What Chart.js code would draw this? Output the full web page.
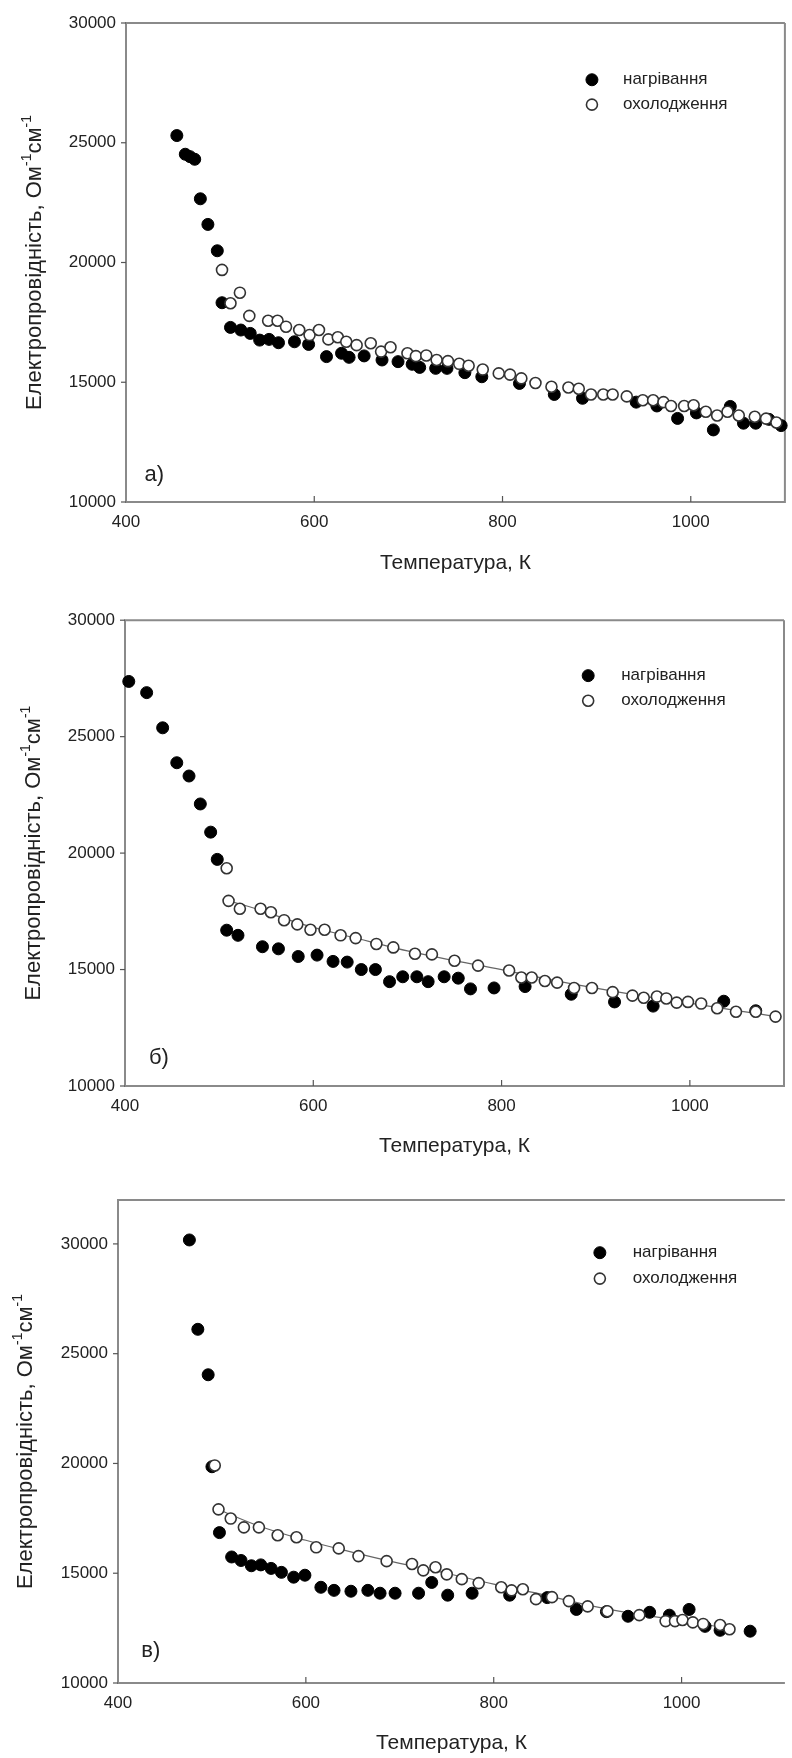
<!DOCTYPE html>
<html><head><meta charset="utf-8">
<script src="https://cdn.jsdelivr.net/npm/chart.js@4.4.0/dist/chart.umd.min.js"></script>
<style>
html,body{margin:0;padding:0;background:#fff;}
body{width:792px;height:1758px;position:relative;overflow:hidden;}
canvas{position:absolute;left:0;}
</style></head><body>
<canvas id="ca"></canvas>
<canvas id="cb"></canvas>
<canvas id="cc"></canvas>
<script>
// ---- tick labels and texts ----
const xTicks = [400, 600, 800, 1000];
const yTicks = [10000, 15000, 20000, 25000, 30000];
const legendLabels = ['нагрівання', 'охолодження'];
const xTitle = 'Температура, К';
const yTitleParts = [['Електропровідність, Ом', false], ['-1', true], ['см', false], ['-1', true]];
const panelLabels = ['а)', 'б)', 'в)'];

// ---- panel а ----
const heatTempA = [454,463,468,473,479,487,497,502,511,522,532,542,552,562,579,594,613,629,637,653,672,689,704,712,729,741,760,778,818,855,885,942,964,986,1006,1024,1042,1056,1069,1083,1096];
const heatCondA = [25300,24520,24420,24310,22660,21590,20490,18320,17290,17180,17040,16760,16790,16650,16690,16580,16070,16210,16040,16100,15930,15860,15750,15620,15580,15580,15400,15230,14950,14490,14330,14170,14010,13490,13720,13010,13990,13290,13290,13450,13190];
const coolTempA = [502,511,521,531,551,561,570,584,595,605,615,625,634,645,660,671,681,699,708,719,730,742,754,764,779,796,808,820,835,852,870,881,894,907,917,932,949,960,971,979,993,1003,1016,1028,1039,1051,1068,1080,1091];
const coolCondA = [19690,18300,18740,17770,17570,17570,17320,17180,16970,17180,16790,16880,16690,16550,16630,16280,16460,16210,16090,16120,15930,15880,15770,15690,15530,15370,15320,15160,14970,14810,14780,14730,14490,14490,14490,14410,14250,14250,14170,14010,14010,14040,13770,13610,13770,13610,13560,13480,13320];

// ---- panel б ----
const heatTempB = [404,423,440,455,468,480,491,498,508,520,546,563,584,604,621,636,651,666,681,695,710,722,739,754,767,792,825,874,920,961,1036,1070];
const heatCondB = [27370,26890,25380,23880,23310,22110,20900,19730,16690,16470,15980,15890,15560,15620,15350,15320,15000,15000,14480,14690,14690,14480,14690,14630,14170,14210,14270,13940,13610,13430,13640,13230];
const coolTempB = [508,510,522,544,555,569,583,597,612,629,645,667,685,708,726,750,775,808,821,832,846,859,877,896,918,939,951,965,975,986,998,1012,1029,1049,1070,1091];
const coolCondB = [19350,17950,17610,17610,17460,17120,16940,16710,16710,16470,16350,16100,15950,15680,15650,15380,15170,14960,14660,14660,14510,14440,14210,14210,14030,13880,13790,13840,13760,13580,13610,13540,13340,13190,13190,12980];
const fitTempB = [510,540,580,620,660,700,750,800,850,900,950,1000,1050,1090];
const fitCondB = [17950,17600,17050,16600,16200,15800,15380,15000,14580,14200,13860,13560,13240,12990];

// ---- panel в ----
const heatTempC = [476,485,496,500,508,521,531,542,552,563,574,587,599,616,630,648,666,679,695,720,734,751,777,817,857,888,920,943,966,987,1008,1025,1041,1073];
const heatCondC = [30180,26110,24040,19850,16850,15740,15580,15340,15380,15220,15040,14820,14910,14360,14220,14180,14220,14090,14090,14090,14580,14000,14090,14000,13890,13350,13250,13040,13220,13090,13350,12580,12400,12360];
const coolTempC = [503,507,520,534,550,570,590,611,635,656,686,713,725,738,750,766,784,808,819,831,845,862,880,900,921,955,983,993,1001,1012,1023,1041,1051];
const coolCondC = [19910,17910,17490,17090,17090,16730,16640,16180,16130,15780,15550,15420,15130,15270,14950,14730,14550,14360,14220,14270,13820,13910,13730,13490,13270,13090,12820,12820,12870,12760,12690,12640,12450];
const fitTempC = [507,550,600,650,700,750,800,850,900,950,1000,1050];
const fitCondC = [17900,17150,16500,15950,15450,15000,14500,14050,13550,13150,12850,12480];

const FONT = "'Liberation Sans', Arial, sans-serif";
const TXT = '#222';

const panels = [
  {id:'ca', top:0, h:600, L:126, T:23, R:790, B:502, xMin:400, xMax:1100, yMin:10000, yMax:30000,
   heatT:heatTempA, heatS:heatCondA, coolT:coolTempA, coolS:coolCondA, fitT:null, fitS:null,
   legT:[895,928], legS:[27630,26590], lab:panelLabels[0], labT:430, labS:11150, yTitleX:35, xtPad:24, frameRight:true},
  {id:'cb', top:600, h:570, L:125, T:611, R:784, B:1086, xMin:400, xMax:1100, yMin:10000, yMax:30000,
   heatT:heatTempB, heatS:heatCondB, coolT:coolTempB, coolS:coolCondB, fitT:fitTempB, fitS:fitCondB,
   legT:[892,927], legS:[27620,26540], lab:panelLabels[1], labT:436, labS:11200, yTitleX:34, xtPad:11, frameRight:true},
  {id:'cc', top:1170, h:588, L:118, T:1200, R:792, B:1683, xMin:400, xMax:1110, yMin:10000, yMax:32000,
   heatT:heatTempC, heatS:heatCondC, coolT:coolTempC, coolS:coolCondC, fitT:fitTempC, fitS:fitCondC,
   legT:[913,948], legS:[29600,28420], lab:panelLabels[2], labT:435, labS:11450, yTitleX:26, xtPad:2, frameRight:false}
];

const framePlugin = {
  id: 'frame',
  beforeDatasetsDraw(chart) {
    const P = chart.options.plugins.frame;
    const {ctx, chartArea: a, scales: {x, y}} = chart;
    ctx.save();
    ctx.strokeStyle = '#8a8a8a';
    ctx.lineWidth = 2;
    ctx.beginPath();
    ctx.moveTo(a.right, a.top); ctx.lineTo(a.left, a.top); ctx.lineTo(a.left, a.bottom); ctx.lineTo(a.right, a.bottom);
    if (P.frameRight) { ctx.lineTo(a.right, a.top); }
    ctx.stroke();
    ctx.strokeStyle = '#555';
    ctx.lineWidth = 1.2;
    x.ticks.forEach(t => {
      const px = x.getPixelForValue(t.value);
      if (px > a.left + 3) { ctx.beginPath(); ctx.moveTo(px, a.bottom); ctx.lineTo(px, a.bottom - 6); ctx.stroke(); }
    });
    y.ticks.forEach(t => {
      const py = y.getPixelForValue(t.value);
      ctx.beginPath(); ctx.moveTo(a.left, py); ctx.lineTo(a.left - 5, py); ctx.stroke();
    });
    ctx.restore();
  },
  afterDraw(chart) {
    const P = chart.options.plugins.frame;
    const {ctx, chartArea: a, scales: {x, y}} = chart;
    ctx.save();
    // legend
    const mx = x.getPixelForValue(P.legT[0]);
    const tx = x.getPixelForValue(P.legT[1]);
    const ds = chart.data.datasets.filter(d => d.label);
    ds.forEach((d, i) => {
      const py = y.getPixelForValue(P.legS[i]);
      ctx.beginPath();
      ctx.arc(mx, py, d.pointRadius, 0, Math.PI * 2);
      ctx.fillStyle = d.backgroundColor; ctx.fill();
      ctx.lineWidth = d.borderWidth; ctx.strokeStyle = d.borderColor; ctx.stroke();
      ctx.fillStyle = TXT;
      ctx.font = '17px ' + FONT;
      ctx.textAlign = 'left'; ctx.textBaseline = 'middle';
      ctx.fillText(d.label, tx, py);
    });
    // panel label
    ctx.font = '22px ' + FONT;
    ctx.fillStyle = TXT;
    ctx.textAlign = 'center'; ctx.textBaseline = 'middle';
    ctx.fillText(P.lab, x.getPixelForValue(P.labT), y.getPixelForValue(P.labS));
    // y title with superscripts
    const cy = (a.top + a.bottom) / 2;
    ctx.translate(P.yTitleX, cy);
    ctx.rotate(-Math.PI / 2);
    const mainFont = '22px ' + FONT, supFont = '14px ' + FONT;
    let w = 0;
    yTitleParts.forEach(([s, sup]) => { ctx.font = sup ? supFont : mainFont; w += ctx.measureText(s).width; });
    let cx = -w / 2;
    ctx.textAlign = 'left'; ctx.textBaseline = 'middle';
    yTitleParts.forEach(([s, sup]) => {
      ctx.font = sup ? supFont : mainFont;
      ctx.fillText(s, cx, sup ? -8 : 0);
      cx += ctx.measureText(s).width;
    });
    ctx.restore();
  }
};

function pts(T, S) { return T.map((t, i) => ({x: t, y: S[i]})); }

panels.forEach(P => {
  const cv = document.getElementById(P.id);
  cv.width = 792; cv.height = P.h; cv.style.top = P.top + 'px';
  cv.style.width = '792px'; cv.style.height = P.h + 'px';
  const datasets = [];
  if (P.fitT) datasets.push({type: 'line', data: pts(P.fitT, P.fitS), borderColor: '#666', borderWidth: 1.2,
    pointRadius: 0, tension: 0.4, fill: false, order: 3, clip: false});
  datasets.push({label: legendLabels[0], data: pts(P.heatT, P.heatS), pointRadius: 6, backgroundColor: '#000',
    borderColor: '#000', borderWidth: 1, order: 2, clip: false});
  datasets.push({label: legendLabels[1], data: pts(P.coolT, P.coolS), pointRadius: 5.5, backgroundColor: '#fff',
    borderColor: '#333', borderWidth: 1.6, order: 1, clip: false});
  new Chart(cv, {
    type: 'scatter',
    data: {datasets},
    options: {
      responsive: false, animation: false, devicePixelRatio: 1,
      layout: {padding: {top: P.T - P.top, right: 792 - P.R, bottom: 0, left: 0}},
      plugins: {legend: {display: false}, tooltip: {enabled: false}, frame: P},
      scales: {
        x: {type: 'linear', min: P.xMin, max: P.xMax,
          grid: {display: false, drawTicks: false}, border: {display: false},
          afterBuildTicks: s => { s.ticks = xTicks.map(v => ({value: v})); },
          afterFit: s => { s.height = P.top + P.h - P.B; },
          ticks: {padding: 10, autoSkip: false, maxRotation: 0, color: TXT, font: {family: FONT, size: 17},
            callback: v => String(v)},
          title: {display: true, text: xTitle, color: TXT, font: {family: FONT, size: 21}, padding: {top: 0, bottom: P.xtPad}}},
        y: {type: 'linear', min: P.yMin, max: P.yMax,
          grid: {display: false, drawTicks: false}, border: {display: false},
          afterBuildTicks: s => { s.ticks = yTicks.map(v => ({value: v})); },
          afterFit: s => { s.width = P.L; },
          ticks: {padding: 10, autoSkip: false, color: TXT, font: {family: FONT, size: 17},
            callback: v => String(v)}}
      }
    },
    plugins: [framePlugin]
  });
});
</script>
</body></html>
